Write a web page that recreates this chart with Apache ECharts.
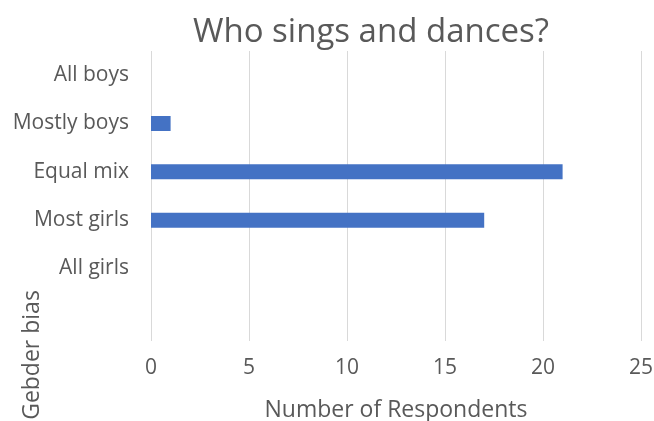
<!DOCTYPE html>
<html>
<head>
<meta charset="utf-8">
<script src="https://cdn.jsdelivr.net/npm/echarts@6/dist/echarts.min.js"></script>
<style>
  html, body { margin: 0; padding: 0; background: #fff; }
  #chart { width: 654px; height: 421px; }
</style>
</head>
<body>
<div id="chart"></div>
<script>
// Gender mix categories, listed top to bottom (last slot is an empty row)
const categories = ['All boys', 'Mostly boys', 'Equal mix', 'Most girls', 'All girls', ''];
// Number of respondents per category
const respondents = [null, 1, 21, 17, null, null];
// Horizontal axis ticks
const xTicks = [0, 5, 10, 15, 20, 25];

const font = '"Open Sans", Lato, sans-serif';
const grey = '#595959';

const chart = echarts.init(document.getElementById('chart'), null, { renderer: 'canvas' });
chart.setOption({
  animation: false,
  backgroundColor: '#ffffff',
  title: {
    text: 'Who sings and dances?',
    left: 366,
    top: 11,
    textAlign: 'center',
    textStyle: { fontFamily: font, fontSize: 33, fontWeight: 'normal', color: grey }
  },
  grid: {
    left: 151, right: 13, top: 51, bottom: 80,
    containLabel: false,
    outerBoundsMode: 'none'
  },
  xAxis: {
    type: 'value',
    min: xTicks[0],
    max: xTicks[xTicks.length - 1],
    interval: xTicks[1] - xTicks[0],
    name: 'Number of Respondents',
    nameLocation: 'middle',
    nameGap: 58,
    nameTextStyle: { fontFamily: font, fontSize: 23, color: grey },
    axisLine: { show: false },
    axisTick: { show: false },
    axisLabel: { fontFamily: font, fontSize: 21, color: grey, margin: 17 },
    splitLine: { show: true, lineStyle: { color: '#d9d9d9', width: 1 } }
  },
  yAxis: {
    type: 'category',
    data: categories,
    inverse: true,
    axisLine: { show: false },
    axisTick: { show: false },
    splitLine: { show: false },
    axisLabel: { fontFamily: font, fontSize: 21, color: grey, margin: 22 }
  },
  graphic: [{
    type: 'text',
    x: 32,
    y: 355,
    rotation: Math.PI / 2,
    style: {
      text: 'Gebder bias',
      fontFamily: font,
      fontSize: 23,
      fill: grey,
      align: 'center',
      verticalAlign: 'middle'
    }
  }],
  series: [{
    type: 'bar',
    data: respondents,
    barWidth: 15,
    itemStyle: { color: '#4472C4' }
  }]
});
</script>
</body>
</html>
